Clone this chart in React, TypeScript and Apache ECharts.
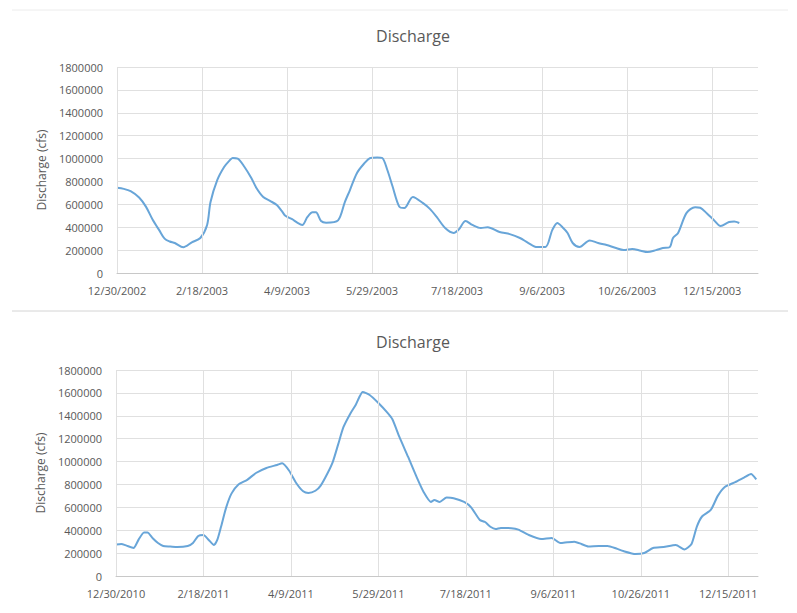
import React, { useEffect, useRef } from "react";
import * as echarts from "echarts";

// 2003 daily discharge (day offset from 12/30/2002, cfs)
const topDays = [0, 4, 8, 13, 17, 21, 25, 28, 31, 34, 39, 44, 49, 53, 55, 59, 63, 66, 68, 71, 75, 79, 82, 86, 90, 94, 97, 99, 103, 106, 109, 112, 115, 117, 120, 123, 130, 134, 137, 141, 145, 149, 153, 156, 159, 162, 166, 169, 174, 180, 184, 188, 193, 198, 201, 205, 209, 214, 218, 225, 231, 237, 242, 247, 252, 256, 259, 262, 265, 268, 272, 278, 283, 288, 293, 298, 303, 308, 312, 317, 321, 325, 327, 330, 335, 340, 343, 347, 351, 355, 360, 363, 366];
const topFlow = [745000, 735000, 715000, 660000, 580000, 465000, 370000, 300000, 275000, 262000, 225000, 268000, 306000, 420000, 620000, 813000, 926000, 980000, 1005000, 1000000, 926000, 830000, 743000, 664000, 630000, 594000, 540000, 500000, 470000, 440000, 420000, 490000, 530000, 530000, 455000, 440000, 460000, 620000, 725000, 870000, 950000, 1005000, 1010000, 1005000, 900000, 760000, 580000, 568000, 665000, 610000, 560000, 490000, 393000, 350000, 380000, 455000, 420000, 393000, 400000, 358000, 340000, 306000, 262000, 227000, 227000, 375000, 437000, 400000, 350000, 262000, 227000, 285000, 262000, 245000, 220000, 200000, 210000, 195000, 183000, 200000, 218000, 225000, 306000, 350000, 525000, 575000, 570000, 520000, 463000, 410000, 445000, 450000, 437000];

// 2011 daily discharge (day offset from 12/30/2010, cfs)
const botDays = [0, 3, 6, 10, 13, 16, 18, 21, 24, 27, 31, 35, 41, 44, 47, 50, 53, 56, 58, 60, 63, 66, 70, 75, 80, 86, 92, 95, 99, 103, 107, 110, 114, 117, 121, 124, 127, 130, 134, 137, 139, 141, 145, 150, 155, 158, 162, 167, 172, 176, 180, 182, 185, 189, 193, 199, 203, 208, 211, 214, 217, 220, 226, 230, 236, 243, 249, 254, 258, 262, 266, 270, 276, 281, 286, 290, 297, 302, 307, 313, 320, 325, 329, 332, 335, 340, 344, 348, 354, 359, 363, 366];
const botFlow = [275000, 280000, 265000, 245000, 320000, 380000, 380000, 330000, 288000, 262000, 258000, 253000, 262000, 288000, 350000, 358000, 315000, 271000, 320000, 428000, 600000, 720000, 800000, 840000, 900000, 944000, 970000, 985000, 920000, 813000, 740000, 725000, 745000, 790000, 900000, 1000000, 1150000, 1300000, 1420000, 1494000, 1560000, 1608000, 1582000, 1512000, 1430000, 1370000, 1215000, 1040000, 860000, 730000, 647000, 664000, 647000, 685000, 680000, 647000, 600000, 489000, 472000, 430000, 410000, 420000, 418000, 405000, 358000, 323000, 332000, 288000, 295000, 300000, 280000, 258000, 262000, 262000, 240000, 218000, 192000, 201000, 245000, 253000, 271000, 232000, 280000, 430000, 520000, 577000, 700000, 778000, 820000, 860000, 891000, 845000];

const yTicks = { min: 0, max: 1800000, interval: 200000 };
const xGridDays = [0, 50, 100, 150, 200, 250, 300, 350];
const topBase = Date.UTC(2002, 11, 30);
const botBase = Date.UTC(2010, 11, 30);

const dateFmt = (base: number) => (v: number) => {
  if (v % 50 !== 0) return "";
  const d = new Date(base + v * 86400000);
  return `${d.getUTCMonth() + 1}/${d.getUTCDate()}/${d.getUTCFullYear()}`;
};

const FONT = "Open Sans";
const TXT = "#595959";
const GRID = "#e0e0e0";
const LINE = "#68a5d8";

export default function App() {
  const ref = useRef<HTMLDivElement>(null);
  useEffect(() => {
    if (!ref.current) return;
    const chart = echarts.init(ref.current, undefined, { renderer: "svg" });
    const xAxisBase = (gridIndex: number, max: number, base: number) => ({
      type: "value",
      gridIndex,
      min: 0,
      max,
      interval: 50,
      axisLine: { show: true, lineStyle: { color: "#c8c8c8" } },
      axisTick: { show: false },
      splitLine: { show: false },
      axisLabel: {
        formatter: dateFmt(base),
        color: TXT,
        fontFamily: FONT,
        fontSize: 11,
        margin: 12,
        showMaxLabel: false,
      },
    });
    const yAxisBase = (gridIndex: number) => ({
      type: "value",
      gridIndex,
      ...yTicks,
      name: "Discharge (cfs)",
      nameLocation: "middle",
      nameGap: 70,
      nameTextStyle: { color: TXT, fontFamily: FONT, fontSize: 12 },
      axisLine: { show: false },
      axisTick: { show: false },
      splitLine: { show: true, lineStyle: { color: GRID } },
      axisLabel: {
        color: TXT,
        fontFamily: FONT,
        fontSize: 11,
        margin: 14,
        formatter: (v: number) => String(v),
      },
    });
    const gridSeries = (idx: number) => ({
      type: "line",
      xAxisIndex: idx,
      yAxisIndex: idx,
      data: [],
      z: 1,
      markLine: {
        silent: true,
        symbol: "none",
        label: { show: false },
        lineStyle: { color: GRID, type: "solid", width: 1 },
        data: xGridDays.map((x) => ({ xAxis: x })),
      },
    });
    chart.setOption({
      animation: false,
      backgroundColor: "#ffffff",
      title: [
        {
          text: "Discharge",
          left: 408,
          top: 23,
          textAlign: "center",
          textStyle: { color: TXT, fontFamily: FONT, fontSize: 16, fontWeight: "normal" },
        },
        {
          text: "Discharge",
          left: 408,
          top: 329,
          textAlign: "center",
          textStyle: { color: TXT, fontFamily: FONT, fontSize: 16, fontWeight: "normal" },
        },
      ],
      grid: [
        { left: 117, top: 67, width: 641, height: 206 },
        { left: 116, top: 370, width: 642, height: 206 },
      ],
      xAxis: [xAxisBase(0, 377, topBase), xAxisBase(1, 367, botBase)],
      yAxis: [yAxisBase(0), yAxisBase(1)],
      graphic: [
        {
          type: "line",
          shape: { x1: 12, y1: 10, x2: 788, y2: 10 },
          style: { stroke: "#ececec", lineWidth: 1 },
          silent: true,
        },
        {
          type: "line",
          shape: { x1: 12, y1: 311, x2: 788, y2: 311 },
          style: { stroke: "#d4d4d4", lineWidth: 1 },
          silent: true,
        },
      ],
      series: [
        gridSeries(0),
        gridSeries(1),
        {
          type: "line",
          xAxisIndex: 0,
          yAxisIndex: 0,
          z: 3,
          data: topDays.map((d, i) => [d, topFlow[i]]),
          showSymbol: false,
          smooth: 0.3,
          lineStyle: { color: LINE, width: 2 },
        },
        {
          type: "line",
          xAxisIndex: 1,
          yAxisIndex: 1,
          z: 3,
          data: botDays.map((d, i) => [d, botFlow[i]]),
          showSymbol: false,
          smooth: 0.2,
          lineStyle: { color: LINE, width: 2 },
        },
      ],
    });
    return () => chart.dispose();
  }, []);
  return (
    <div
      ref={ref}
      style={{ position: "fixed", left: 0, top: 0, width: 797, height: 613 }}
    />
  );
}
